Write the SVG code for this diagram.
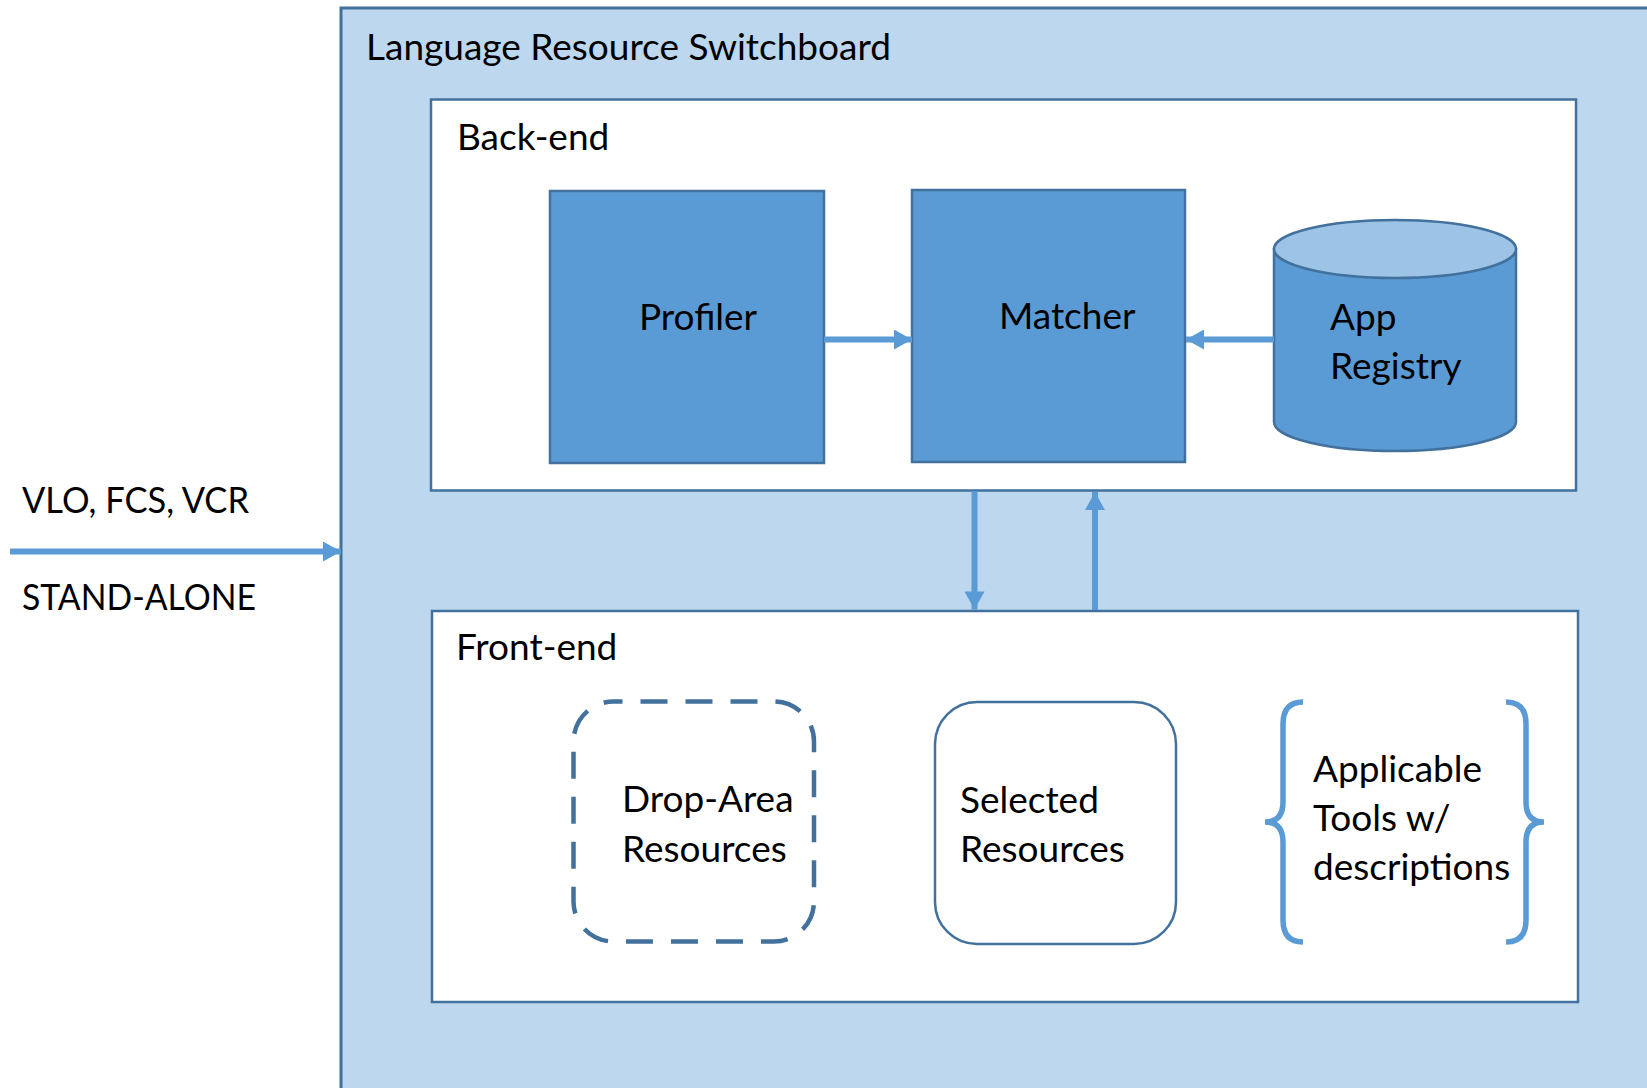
<svg xmlns="http://www.w3.org/2000/svg" width="1647" height="1088" viewBox="0 0 1647 1088">
<defs>
<style>
text{font-family:Lato,"Liberation Sans",sans-serif;font-size:37px;fill:#000}
.panel{fill:#fff;stroke:#41719C;stroke-width:2.5}
.block{fill:#5B9BD5;stroke:#41719C;stroke-width:2.5}
.conn{stroke:#5B9BD5;stroke-width:6;fill:none}
.brace{stroke:#5B9BD5;stroke-width:5.5;fill:none}
</style>
<marker id="ah" viewBox="0 0 18 20" refX="18" refY="10" markerWidth="19" markerHeight="20" markerUnits="userSpaceOnUse" orient="auto">
<path d="M0,0 L18,10 L0,20 Z" fill="#5B9BD5"/>
</marker>
</defs>
<rect width="1647" height="1088" fill="#fff"/>
<g id="switchboard">
<rect x="341" y="8" width="1320" height="1100" fill="#BDD7EE" stroke="#41719C" stroke-width="3"/>
<text x="366" y="60">Language Resource Switchboard</text>
</g>
<g id="backend">
<rect class="panel" x="431" y="99.5" width="1145" height="391"/>
<text x="457" y="150">Back-end</text>
</g>
<g id="profiler">
<rect class="block" x="550" y="191" width="274" height="272"/>
<text x="639" y="330">Profiler</text>
</g>
<g id="matcher">
<rect class="block" x="912" y="190" width="273" height="272"/>
<text x="999" y="329">Matcher</text>
</g>
<g id="appregistry">
<path d="M1274,249 L1274,422 A121,29 0 0 0 1516,422 L1516,249 Z" fill="#5B9BD5" stroke="#41719C" stroke-width="2.5"/>
<ellipse cx="1395" cy="249" rx="121" ry="29" fill="#9DC3E6" stroke="#41719C" stroke-width="2.5"/>
<text x="1330" y="330">App</text>
<text x="1330" y="379">Registry</text>
</g>
<g id="frontend">
<rect class="panel" x="432" y="611" width="1146" height="391"/>
<text x="456" y="660">Front-end</text>
</g>
<g id="droparea">
<rect x="573.5" y="701.5" width="240.5" height="240" rx="40" ry="40" fill="none" stroke="#41719C" stroke-width="4.5" stroke-dasharray="27 18" stroke-dashoffset="18"/>
<text x="622" y="812">Drop-Area</text>
<text x="622" y="862">Resources</text>
</g>
<g id="selected">
<rect x="935" y="702" width="241" height="242" rx="42" ry="42" fill="#fff" stroke="#41719C" stroke-width="2.5"/>
<text x="960" y="813">Selected</text>
<text x="960" y="862">Resources</text>
</g>
<g id="tools">
<path class="brace" d="M1303,702 Q1283,702 1283,724 L1283,802 Q1283,822 1265,822 Q1283,822 1283,842 L1283,920 Q1283,942 1303,942"/>
<path class="brace" d="M1506,702 Q1526,702 1526,724 L1526,802 Q1526,822 1544,822 Q1526,822 1526,842 L1526,920 Q1526,942 1506,942"/>
<text x="1313" y="782">Applicable</text>
<text x="1313" y="831">Tools w/</text>
<text x="1313" y="880">descriptions</text>
</g>
<g id="labels">
<text x="22" y="513" textLength="227" lengthAdjust="spacingAndGlyphs">VLO, FCS, VCR</text>
<text x="22" y="610" textLength="234" lengthAdjust="spacingAndGlyphs">STAND-ALONE</text>
</g>
<g id="connectors">
<line class="conn" x1="824" y1="339.5" x2="912" y2="339.5" marker-end="url(#ah)"/>
<line class="conn" x1="1274" y1="339.5" x2="1186" y2="339.5" marker-end="url(#ah)"/>
<line class="conn" x1="974.5" y1="491" x2="974.5" y2="609.5" marker-end="url(#ah)"/>
<line class="conn" x1="1095" y1="610" x2="1095" y2="492" marker-end="url(#ah)"/>
<line class="conn" x1="10" y1="551.5" x2="341" y2="551.5" marker-end="url(#ah)"/>
</g>
</svg>
